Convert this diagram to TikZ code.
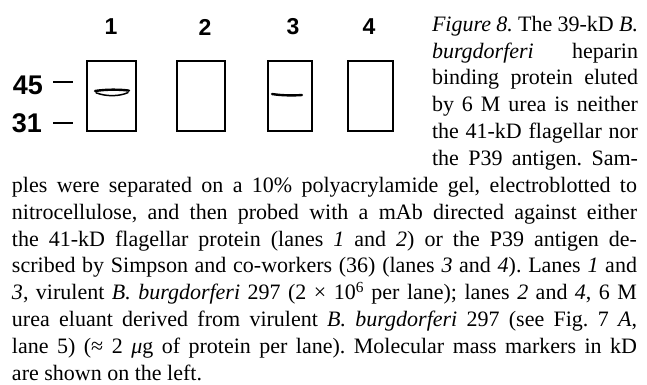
\documentclass[tikz,border=0pt]{standalone}
\usepackage{fontspec}
\setmainfont{Liberation Serif}
\setsansfont{Liberation Sans}

\begin{document}
\begin{tikzpicture}[x=1pt, y=-1pt,
  every node/.style = {inner sep=0pt, outer sep=0pt},
  lane/.style = {font=\sffamily\bfseries\fontsize{23}{23}\selectfont},
  marker/.style = {font=\sffamily\bfseries\fontsize{27}{27}\selectfont},
  blot/.style = {draw, line width=2.4pt},
  band/.style = {line width=2.4pt, line cap=round},
  tick/.style = {line width=1.4pt}]
    \useasboundingbox (0,0) rectangle (647,384);
  % lanes
  \node[lane] (l1) at (111,27) {1};
  \node[lane] (l2) at (205,27) {2};
  \node[lane] (l3) at (293,27) {3};
  \node[lane] (l4) at (369,27) {4};
  \draw[blot] (87,61) rectangle (136,131);
  \draw[blot] (177,61) rectangle (225,131);
  \draw[blot] (268,61) rectangle (312,131);
  \draw[blot] (348,61) rectangle (393,131);
  % bands
  \draw[band] (95,91) .. controls (106,89.3) and (119,89.3) .. (129,90.6);
  \draw[band, line width=1.5pt] (96,92.8) .. controls (106,96.6) and (119,96.6) .. (128,92.6);
  \draw[band] (272,94) .. controls (282,95.6) and (294,95.6) .. (302,95);
  % markers
  \node[marker] (m45) at (28,85) {45};
  \node[marker] (m31) at (27,123) {31};
  \coordinate (t45a) at (53,82);  \coordinate (t45b) at (73,82);
  \coordinate (t31a) at (53,123); \coordinate (t31b) at (73,123);
  \draw[tick] (t45a) -- (t45b);
  \draw[tick] (t31a) -- (t31b);
  % legend
  \node[anchor=north west, text width=625pt, align=justify,
        font=\fontsize{22}{26.85}\selectfont] (legend) at (12,16)
  {\parindent=0pt\tolerance=9999\frenchspacing
   \parshape 7 420pt 206pt 420pt 206pt 420pt 206pt 420pt 206pt
               420pt 206pt 420pt 206pt 0pt 625pt
   \textit{Figure 8.} The 39-kD \textit{B.}\linebreak
   \textit{burgdorferi} heparin\linebreak
   binding protein eluted\linebreak
   by 6 M urea is neither\linebreak
   the 41-kD flagellar nor\linebreak
   the P39 antigen. Sam-\linebreak
   ples were separated on a 10\% polyacrylamide gel, electroblotted to\linebreak
   nitrocellulose, and then probed with a mAb directed against either\linebreak
   the 41-kD flagellar protein (lanes \textit{1} and \textit{2}) or the P39 antigen de-\linebreak
   scribed by Simpson and co-workers (36) (lanes \textit{3} and \textit{4}). Lanes \textit{1} and\linebreak
   \textit{3}, virulent \textit{B. burgdorferi} 297 (2 × 10\textsuperscript{6} per lane); lanes \textit{2} and \textit{4}, 6 M\linebreak
   urea eluant derived from virulent \textit{B. burgdorferi} 297 (see Fig. 7 \textit{A},\linebreak
   lane 5) (≈ 2 \textit{μ}g of protein per lane). Molecular mass markers in kD\linebreak
   are shown on the left.\par};
\end{tikzpicture}
\end{document}
